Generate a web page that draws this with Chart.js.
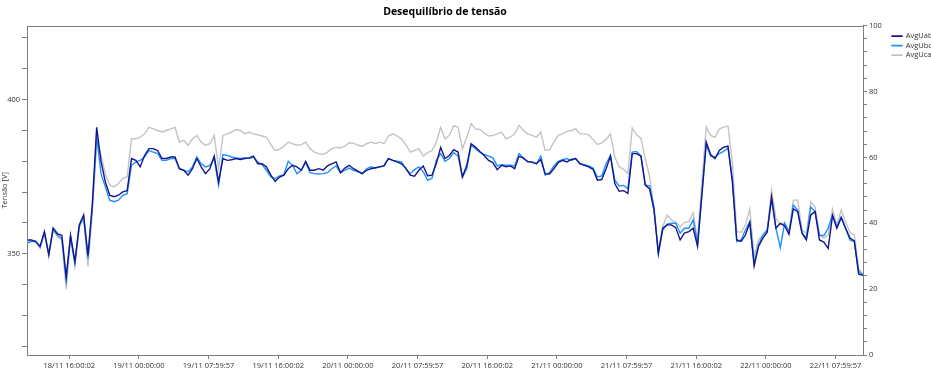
<!DOCTYPE html>
<html lang="pt">
<head>
<meta charset="UTF-8">
<title>Desequilíbrio de tensão</title>
<script src="https://cdn.jsdelivr.net/npm/chart.js"></script>
<style>
    html, body {
        margin: 0;
        padding: 0;
        background: #fff;
        overflow: hidden;
    }
    #wrap {
        width: 931px;
        height: 386px;
    }
</style>
</head>
<body>
<div id="wrap"><canvas id="chart"></canvas></div>
<script>
// time axis: hours counted from 18/11 00:00, one reading every 30 min
const startHour = 11.15;
const stepHours = 0.5;

const tickHours = [16, 24, 32, 40, 48, 56, 64, 72, 80, 88, 96, 104];
const tickLabels = [
    '18/11 16:00:02', '19/11 00:00:00', '19/11 07:59:57', '19/11 16:00:02',
    '20/11 00:00:00', '20/11 07:59:57', '20/11 16:00:02', '21/11 00:00:00',
    '21/11 07:59:57', '21/11 16:00:02', '22/11 00:00:00', '22/11 07:59:57'
];

const avgUab = [
    354.5, 354.5, 354.0, 352.5, 357.2, 349.7, 358.4, 356.5, 356.0, 342.5,
    356.0, 347.5, 359.4, 362.6, 349.5, 366.0, 391.0, 380.0, 373.3, 369.0,
    368.5, 369.0, 370.1, 370.5, 380.9, 380.3, 378.2, 381.9, 384.1, 384.1,
    383.5, 380.9, 380.9, 381.4, 381.4, 377.6, 377.1, 375.5, 377.6, 380.9,
    378.2, 376.0, 377.6, 381.7, 373.3, 380.9, 380.3, 380.5, 380.9, 380.6,
    380.9, 381.1, 381.7, 379.2, 379.2, 378.2, 375.5, 373.5, 374.9, 375.5,
    377.6, 378.7, 378.2, 377.1, 380.0, 377.1, 377.1, 377.6, 377.1, 378.5,
    379.2, 379.8, 376.3, 377.8, 378.7, 377.6, 376.8, 376.0, 377.1, 377.6,
    377.9, 378.2, 378.5, 380.9, 380.3, 379.8, 379.2, 377.8, 375.5, 375.2,
    377.1, 378.5, 375.3, 375.5, 379.2, 384.5, 380.9, 381.9, 383.8, 383.0,
    374.9, 378.7, 385.7, 384.6, 383.2, 381.9, 380.3, 379.6, 377.3, 378.7,
    378.2, 378.5, 377.6, 381.6, 381.1, 379.8, 379.8, 379.2, 380.6, 376.0,
    375.9, 377.6, 379.6, 380.3, 379.8, 380.6, 380.9, 379.2, 378.7, 378.2,
    377.4, 373.9, 374.1, 377.6, 381.7, 372.8, 370.3, 370.5, 369.6, 382.5,
    382.5, 381.7, 372.3, 371.0, 364.2, 350.2, 358.3, 359.4, 359.4, 358.5,
    354.5, 356.7, 357.2, 358.3, 352.4, 369.0, 386.2, 382.2, 380.9, 383.5,
    384.6, 384.9, 373.3, 354.5, 354.0, 356.1, 360.2, 346.0, 352.4, 355.1,
    357.0, 368.5, 358.3, 359.9, 359.1, 356.3, 364.6, 363.7, 356.7, 354.5,
    362.6, 363.7, 354.5, 353.8, 351.8, 362.4, 358.3, 361.7, 358.3, 355.1,
    354.2, 343.4, 343.0
];

const avgUbc = [
    353.5, 354.0, 354.2, 352.0, 357.0, 350.0, 358.0, 356.0, 355.0, 341.5,
    355.5, 347.0, 359.0, 362.0, 348.5, 365.0, 388.0, 376.0, 371.7, 367.4,
    366.9, 367.4, 369.0, 369.5, 378.7, 379.8, 380.3, 381.4, 383.5, 383.0,
    382.5, 380.3, 380.3, 380.9, 380.9, 377.6, 377.1, 376.6, 378.2, 381.4,
    379.2, 378.2, 378.7, 380.9, 372.3, 382.2, 381.9, 381.4, 381.1, 380.9,
    381.1, 380.9, 381.4, 379.8, 378.9, 377.1, 374.9, 374.4, 375.3, 375.7,
    380.0, 378.7, 376.0, 377.1, 379.6, 376.3, 376.0, 375.9, 376.0, 376.3,
    377.6, 378.5, 376.3, 377.1, 377.8, 377.1, 376.6, 376.0, 377.6, 378.2,
    377.8, 378.2, 378.7, 380.9, 380.3, 380.0, 379.8, 377.6, 376.0, 377.3,
    378.2, 376.6, 373.9, 374.4, 380.3, 382.5, 380.0, 380.9, 382.8, 381.7,
    374.9, 377.6, 385.2, 384.1, 383.0, 382.2, 381.7, 381.1, 378.5, 378.9,
    378.7, 378.7, 378.5, 382.5, 380.9, 380.0, 379.6, 379.2, 381.7, 375.5,
    376.3, 378.5, 380.0, 380.5, 380.9, 380.3, 380.9, 379.2, 378.9, 378.5,
    377.8, 374.9, 375.3, 379.2, 381.9, 373.9, 372.0, 372.2, 371.2, 383.0,
    383.2, 381.7, 372.3, 372.0, 365.2, 349.9, 357.7, 359.6, 359.9, 359.9,
    356.7, 358.3, 358.3, 361.0, 353.4, 369.6, 385.4, 381.7, 381.4, 382.5,
    383.2, 384.3, 374.4, 354.0, 354.5, 357.7, 360.4, 347.0, 352.9, 356.1,
    357.7, 367.4, 358.3, 352.0, 359.9, 357.0, 365.8, 364.2, 356.7, 355.3,
    365.2, 363.7, 356.1, 355.9, 358.3, 362.6, 358.8, 362.0, 358.3, 354.5,
    354.0, 344.3, 343.2
];

const avgUca = [
    354.8, 354.0, 353.8, 352.0, 356.5, 349.0, 357.5, 355.5, 354.5, 338.5,
    355.0, 346.0, 358.5, 361.5, 346.0, 363.0, 386.0, 382.0, 376.0, 372.3,
    371.7, 372.8, 374.4, 375.0, 387.3, 387.3, 387.8, 388.9, 391.0, 390.5,
    390.0, 389.5, 390.0, 390.5, 391.0, 386.2, 386.8, 385.2, 387.3, 388.4,
    386.2, 385.2, 385.7, 388.4, 377.6, 388.4, 388.9, 389.5, 390.3, 390.0,
    388.9, 389.5, 388.9, 388.6, 388.2, 387.8, 385.4, 383.5, 383.9, 384.9,
    386.2, 385.7, 385.2, 385.4, 386.2, 384.1, 383.0, 382.5, 382.2, 383.0,
    384.1, 384.5, 384.3, 384.9, 386.0, 385.9, 385.2, 384.9, 385.7, 386.2,
    385.8, 386.2, 385.7, 388.2, 388.9, 388.2, 387.3, 385.4, 383.0, 383.5,
    384.1, 381.7, 382.8, 383.5, 386.2, 391.0, 387.3, 388.4, 391.6, 391.1,
    384.1, 387.8, 392.2, 390.5, 390.3, 389.2, 388.2, 388.4, 388.9, 389.5,
    387.3, 387.8, 388.9, 391.6, 390.0, 388.9, 388.4, 387.8, 389.5, 383.5,
    383.7, 386.2, 388.4, 388.9, 389.7, 390.0, 390.5, 388.9, 388.9, 388.6,
    387.1, 385.5, 386.0, 387.1, 388.9, 381.4, 378.2, 377.4, 376.0, 390.8,
    388.6, 387.5, 380.9, 375.0, 363.7, 350.8, 358.8, 362.6, 361.0, 360.2,
    358.8, 360.2, 360.4, 363.4, 354.2, 373.3, 391.1, 388.4, 387.8, 390.5,
    391.1, 391.4, 379.8, 357.2, 357.0, 359.4, 364.5, 349.2, 354.5, 356.1,
    357.7, 370.6, 361.5, 359.4, 360.2, 357.2, 367.4, 367.4, 357.7, 356.7,
    366.9, 365.2, 356.1, 355.1, 356.1, 364.5, 359.4, 364.2, 360.4, 357.0,
    356.1, 345.2, 343.2
];

const axisColor = '#7f7f7f';
const textColor = '#333333';
const fontFamily = "'Open Sans', 'Noto Sans', sans-serif";

function toPoints(values) {
    return values.map((v, i) => ({ x: startHour + i * stepHours, y: v }));
}

function series(label, values, color) {
    return {
        label: label,
        data: toPoints(values),
        borderColor: color,
        backgroundColor: color,
        borderWidth: 1.4,
        pointRadius: 0,
        tension: 0,
        yAxisID: 'y'
    };
}

// box around the plot area (the chart has a top edge too)
const framePlugin = {
    id: 'frame',
    afterDraw(chart) {
        const { ctx, chartArea: a } = chart;
        ctx.save();
        ctx.strokeStyle = axisColor;
        ctx.lineWidth = 1;
        ctx.strokeRect(Math.round(a.left) + 0.5, Math.round(a.top) + 0.5,
            Math.round(a.right - a.left), Math.round(a.bottom - a.top));
        ctx.restore();
    }
};

const tickGrid = {
    display: true,
    drawOnChartArea: false,
    drawTicks: true,
    tickLength: 4,
    tickColor: axisColor
};

new Chart(document.getElementById('chart'), {
    type: 'line',
    data: {
        datasets: [
            series('AvgUab', avgUab, '#16168c'),
            series('AvgUbc', avgUbc, '#1e90ff'),
            series('AvgUca', avgUca, '#c3c3c3')
        ]
    },
    options: {
        responsive: true,
        maintainAspectRatio: false,
        animation: false,
        layout: { padding: 0 },
        plugins: {
            title: {
                display: true,
                text: 'Desequilíbrio de tensão',
                fullSize: false,
                color: '#000',
                font: { family: fontFamily, size: 10.5, weight: 'bold' },
                padding: { top: 6, bottom: 7 }
            },
            legend: {
                position: 'right',
                align: 'start',
                fullSize: false,
                maxWidth: 41,
                title: { display: true, text: '', font: { size: 4 }, padding: 0 },
                labels: {
                    boxWidth: 10,
                    boxHeight: 0.5,
                    padding: 2,
                    color: textColor,
                    font: { family: fontFamily, size: 7.5 }
                }
            },
            tooltip: { enabled: false }
        },
        scales: {
            x: {
                type: 'linear',
                min: startHour,
                max: startHour + (avgUab.length - 1) * stepHours,
                afterBuildTicks: s => { s.ticks = tickHours.map(v => ({ value: v })); },
                afterFit: s => { s.height = 31; },
                border: { display: false },
                grid: tickGrid,
                ticks: {
                    autoSkip: false,
                    maxRotation: 0,
                    padding: 2,
                    color: textColor,
                    font: { family: fontFamily, size: 7.5 },
                    callback: (v, i) => tickLabels[i]
                }
            },
            y: {
                position: 'left',
                min: 317.2,
                max: 424,
                afterBuildTicks: s => {
                    const t = [];
                    for (let v = 320; v <= 420; v += 10) t.push({ value: v });
                    s.ticks = t;
                },
                afterFit: s => { s.width = 27; },
                border: { display: false },
                grid: Object.assign({}, tickGrid, { tickLength: 5 }),
                title: {
                    display: true,
                    text: 'Tensão [V]',
                    color: textColor,
                    font: { family: fontFamily, size: 7.5 },
                    padding: 0
                },
                ticks: {
                    autoSkip: false,
                    padding: 2,
                    color: textColor,
                    font: { family: fontFamily, size: 7.5 },
                    callback: v => (v % 50 === 0 ? v : '')
                }
            },
            y1: {
                position: 'right',
                min: 0,
                max: 100,
                afterBuildTicks: s => {
                    const t = [];
                    for (let v = 0; v <= 100; v += 4) t.push({ value: v });
                    s.ticks = t;
                },
                afterFit: s => { s.width = 27; },
                border: { display: false },
                grid: tickGrid,
                ticks: {
                    autoSkip: false,
                    padding: 2,
                    color: textColor,
                    font: { family: fontFamily, size: 7.5 },
                    callback: v => (v % 20 === 0 ? v : '')
                }
            }
        }
    },
    plugins: [framePlugin]
});
</script>
</body>
</html>
